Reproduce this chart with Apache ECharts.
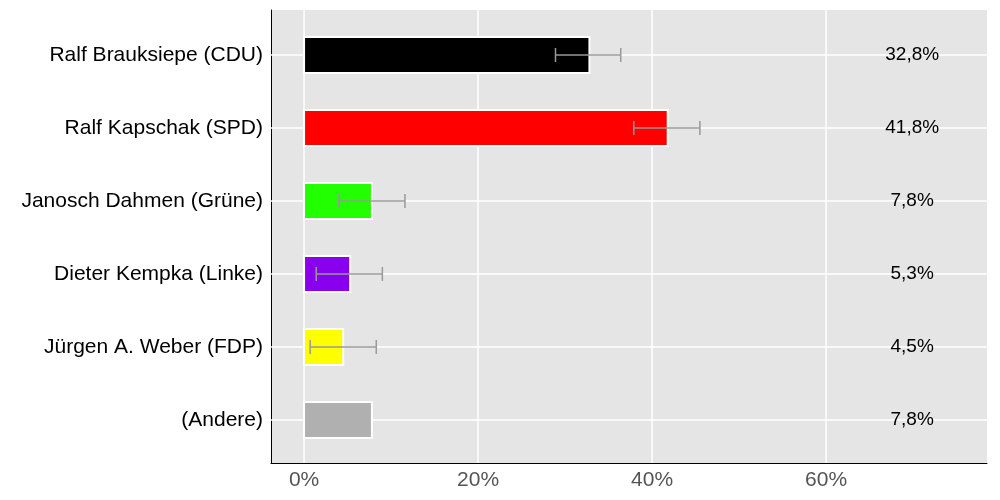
<!DOCTYPE html>
<html><head><meta charset="utf-8">
<script src="https://cdn.jsdelivr.net/npm/echarts@6/dist/echarts.min.js"></script>
<style>html,body{margin:0;background:#fff}#main{width:1000px;height:500px}</style>
</head><body><div id="main"></div>
<script>
var categories = ['Ralf Brauksiepe (CDU)', 'Ralf Kapschak (SPD)', 'Janosch Dahmen (Grüne)', 'Dieter Kempka (Linke)', 'Jürgen A. Weber (FDP)', '(Andere)'];
var values = [32.8, 41.8, 7.8, 5.3, 4.5, 7.8];
var colors = ['#000000', '#ff0000', '#22ff00', '#8800ee', '#ffff00', '#b0b0b0'];
var errLow = [28.9, 37.9, 4.0, 1.4, 0.7, null];
var errHigh = [36.4, 45.5, 11.6, 9.0, 8.3, null];
var labelText = ['32,8%', '41,8%', '7,8%', '5,3%', '4,5%', '7,8%'];
var xTicks = [0, 20, 40, 60];
var labelPos = 69.9;

var myChart = echarts.init(document.getElementById('main'));
var errData = [];
for (var i = 0; i < categories.length; i++) {
	if (errLow[i] != null) errData.push([i, errLow[i], errHigh[i]]);
}
var font = 'Liberation Sans';
var option = {
	animation: false,
	grid: {left: 271, right: 13, top: 10, bottom: 37, backgroundColor: '#e5e5e5', show: true, borderWidth: 0},
	xAxis: {
		type: 'value', min: -3.8, max: 78.5,
		axisLine: {show: true, onZero: false, lineStyle: {color: '#000'}},
		axisTick: {show: false}, splitLine: {show: false}, axisLabel: {show: false}
	},
	yAxis: {
		type: 'value', min: -0.616, max: 5.59, inverse: true,
		axisLine: {show: true, onZero: false, lineStyle: {color: '#000'}},
		axisTick: {show: false}, splitLine: {show: false}, axisLabel: {show: false}
	},
	series: [{
		type: 'custom',
		renderItem: function(params, api) {
			var children = [];
			xTicks.forEach(function(v) {
				var p = api.coord([v, 0]);
				children.push({type: 'line', shape: {x1: p[0], y1: 10, x2: p[0], y2: 463}, style: {stroke: '#fff', lineWidth: 1.5}});
				children.push({type: 'text', style: {text: v + '%', x: p[0], y: 480, align: 'center', verticalAlign: 'middle', fill: '#555', fontSize: 21, fontFamily: font}});
			});
			for (var i = 0; i < categories.length; i++) {
				var c = api.coord([0, i]);
				children.push({type: 'line', shape: {x1: 271, y1: c[1], x2: 987, y2: c[1]}, style: {stroke: '#fff', lineWidth: 1.5}});
				children.push({type: 'text', style: {text: categories[i], x: 263, y: c[1], align: 'right', verticalAlign: 'middle', fill: '#000', fontSize: 21, fontFamily: font}});
			}
			return {type: 'group', children: children};
		},
		data: [[0, 0]], silent: true, z: 1
	}, {
		type: 'custom',
		renderItem: function(params, api) {
			var i = api.value(0);
			var a = api.coord([0, i]);
			var b = api.coord([api.value(1), i]);
			return {type: 'rect', shape: {x: a[0], y: a[1] - 18, width: b[0] - a[0], height: 36},
				style: {fill: colors[i], stroke: '#fff', lineWidth: 2}};
		},
		encode: {x: 1, y: 0},
		data: values.map(function(v, i) { return [i, v]; }), z: 3
	}, {
		type: 'custom',
		renderItem: function(params, api) {
			var a = api.coord([api.value(1), api.value(0)]);
			var b = api.coord([api.value(2), api.value(0)]);
			var st = {stroke: '#999', lineWidth: 1.5};
			return {type: 'group', children: [
				{type: 'line', shape: {x1: a[0], y1: a[1], x2: b[0], y2: b[1]}, style: st},
				{type: 'line', shape: {x1: a[0], y1: a[1] - 7, x2: a[0], y2: a[1] + 7}, style: st},
				{type: 'line', shape: {x1: b[0], y1: b[1] - 7, x2: b[0], y2: b[1] + 7}, style: st}
			]};
		},
		encode: {x: [1, 2], y: 0},
		data: errData, z: 4
	}, {
		type: 'custom',
		renderItem: function(params, api) {
			var p = api.coord([labelPos, api.value(0)]);
			return {type: 'text', style: {text: labelText[api.value(0)], x: p[0], y: p[1], align: 'center', verticalAlign: 'middle', fill: '#000', fontSize: 19, fontFamily: font}};
		},
		data: categories.map(function(c, i) { return [i]; }), z: 5
	}]
};
myChart.setOption(option);
</script></body></html>
